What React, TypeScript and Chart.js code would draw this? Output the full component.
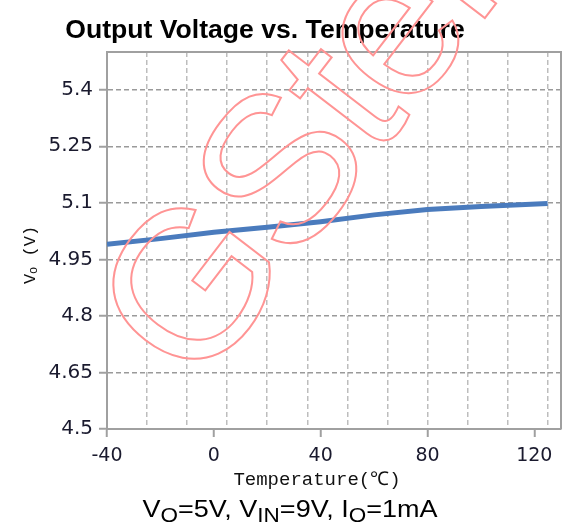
import React, { useEffect, useRef } from 'react';
import { Chart, registerables } from 'chart.js';

Chart.register(...registerables);

const TEMPS = [-40, -20, 0, 20, 40, 60, 80, 100, 125];
const VOUT = [4.99, 5.005, 5.022, 5.035, 5.05, 5.068, 5.082, 5.09, 5.098];
const Y_TICKS = [4.5, 4.65, 4.8, 4.95, 5.1, 5.25, 5.4];
const X_LABEL_TICKS = [-40, 0, 40, 80, 120];
const X_GRID = [-40, -25, -10, 5, 20, 35, 50, 65, 80, 95, 110, 125];
const TITLE = 'Output Voltage vs. Temperature';
const X_TITLE = 'Temperature(℃)';
const Y_TITLE: [string, boolean][] = [['V', false], ['o', true], [' (V)', false]];
const SUBTITLE: [string, boolean][] = [
  ['V', false], ['O', true], ['=5V, V', false], ['IN', true], ['=9V, I', false], ['O', true], ['=1mA', false],
];
const WATERMARK = 'GStek';

const W = 573;
const H = 527;

function drawRich(ctx: CanvasRenderingContext2D, parts: [string, boolean][], x: number, y: number, mainFont: string, subFont: string, subDrop: number) {
  let total = 0;
  for (const [t, sub] of parts) {
    ctx.font = sub ? subFont : mainFont;
    total += ctx.measureText(t).width;
  }
  let cx = x - total / 2;
  ctx.textAlign = 'left';
  for (const [t, sub] of parts) {
    ctx.font = sub ? subFont : mainFont;
    ctx.fillText(t, cx, sub ? y + subDrop : y);
    cx += ctx.measureText(t).width;
  }
}

const textPlugin = {
  id: 'textPlugin',
  afterDraw(chart: any) {
    const ctx: CanvasRenderingContext2D = chart.ctx;
    const a = chart.chartArea;
    ctx.save();
    // frame
    ctx.strokeStyle = '#a0a0a0';
    ctx.lineWidth = 2;
    ctx.beginPath();
    ctx.moveTo(a.left, a.top);
    ctx.lineTo(a.right, a.top);
    ctx.lineTo(a.right, a.bottom);
    ctx.stroke();

    ctx.fillStyle = '#000';
    ctx.textBaseline = 'alphabetic';
    ctx.textAlign = 'center';
    ctx.font = 'bold 26.6px "Liberation Sans", Arial, sans-serif';
    ctx.fillText(TITLE, 265, 38);

    ctx.fillStyle = '#111';
    ctx.font = '19px "Liberation Mono", monospace';
    ctx.fillText(X_TITLE, 317, 485);

    ctx.save();
    ctx.translate(35, 255);
    ctx.rotate(-Math.PI / 2);
    drawRich(ctx, Y_TITLE, 0, 0, '17px "Liberation Mono", monospace', '12px "Liberation Mono", monospace', 2);
    ctx.restore();

    ctx.fillStyle = '#000';
    ctx.save();
    ctx.translate(290, 517);
    ctx.scale(1.125, 1);
    drawRich(ctx, SUBTITLE, 0, 0, '24px "Liberation Sans", Arial, sans-serif', '20px "Liberation Sans", Arial, sans-serif', 5);
    ctx.restore();

    // watermark
    ctx.save();
    ctx.translate(197, 393);
    ctx.rotate((-52.5 * Math.PI) / 180);
    ctx.font = '210px "Liberation Sans", Arial, sans-serif';
    (ctx as any).letterSpacing = '-5px';
    ctx.textAlign = 'left';
    ctx.strokeStyle = '#ff9494';
    ctx.lineWidth = 2;
    ctx.strokeText(WATERMARK, 0, 0);
    ctx.restore();

    ctx.restore();
  },
};

export default function App() {
  const ref = useRef<HTMLCanvasElement | null>(null);
  useEffect(() => {
    if (!ref.current) return;
    const allX = Array.from(new Set([...X_GRID, ...X_LABEL_TICKS])).sort((p, q) => p - q);
    const chart = new Chart(ref.current, {
      type: 'line',
      data: {
        datasets: [
          {
            data: TEMPS.map((t, i) => ({ x: t, y: VOUT[i] })),
            borderColor: '#4a7bbd',
            borderWidth: 5,
            pointRadius: 0,
            tension: 0,
            fill: false,
          },
        ],
      },
      options: {
        animation: false,
        responsive: false,
        devicePixelRatio: 1,
        layout: { padding: { top: 52, right: 12, left: 0, bottom: 0 } },
        plugins: { legend: { display: false }, tooltip: { enabled: false }, title: { display: false } },
        scales: {
          x: {
            type: 'linear',
            min: -40,
            max: 130,
            afterBuildTicks: (s: any) => {
              s.ticks = allX.map((v) => ({ value: v }));
            },
            afterFit: (s: any) => {
              s.height = 98;
            },
            ticks: {
              autoSkip: false,
              maxRotation: 0,
              padding: 8,
              color: '#1a1a2e',
              font: { family: '"DejaVu Sans", sans-serif', size: 19 },
              callback: (v: any) => (X_LABEL_TICKS.includes(Number(v)) ? String(v) : ''),
            },
            grid: {
              color: (c: any) => (X_GRID.includes(c.tick?.value) ? '#bdbdbd' : 'rgba(0,0,0,0)'),
              lineWidth: 1.5,
              tickLength: 8,
              tickColor: (c: any) => (X_LABEL_TICKS.includes(c.tick?.value) ? '#a0a0a0' : 'rgba(0,0,0,0)'),
              tickWidth: 2,
            },
            border: { display: true, color: '#a0a0a0', width: 2, dash: [5, 3] },
          },
          y: {
            type: 'linear',
            min: 4.5,
            max: 5.5,
            afterBuildTicks: (s: any) => {
              s.ticks = Y_TICKS.map((v) => ({ value: v }));
            },
            afterFit: (s: any) => {
              s.width = 107;
            },
            ticks: {
              padding: 6,
              color: '#1a1a2e',
              font: { family: '"DejaVu Sans", sans-serif', size: 20 },
              callback: (v: any) => String(v),
            },
            grid: {
              color: '#9a9a9a',
              lineWidth: 1.5,
              tickLength: 8,
              tickColor: '#a0a0a0',
              tickWidth: 2,
            },
            border: { display: true, color: '#a0a0a0', width: 2, dash: [5, 3] },
          },
        },
      },
      plugins: [textPlugin],
    });
    return () => chart.destroy();
  }, []);
  return (
    <div style={{ position: 'absolute', left: 0, top: 0, width: W, height: H, background: '#fff' }}>
      <canvas ref={ref} width={W} height={H} style={{ width: W, height: H, display: 'block' }} />
    </div>
  );
}
